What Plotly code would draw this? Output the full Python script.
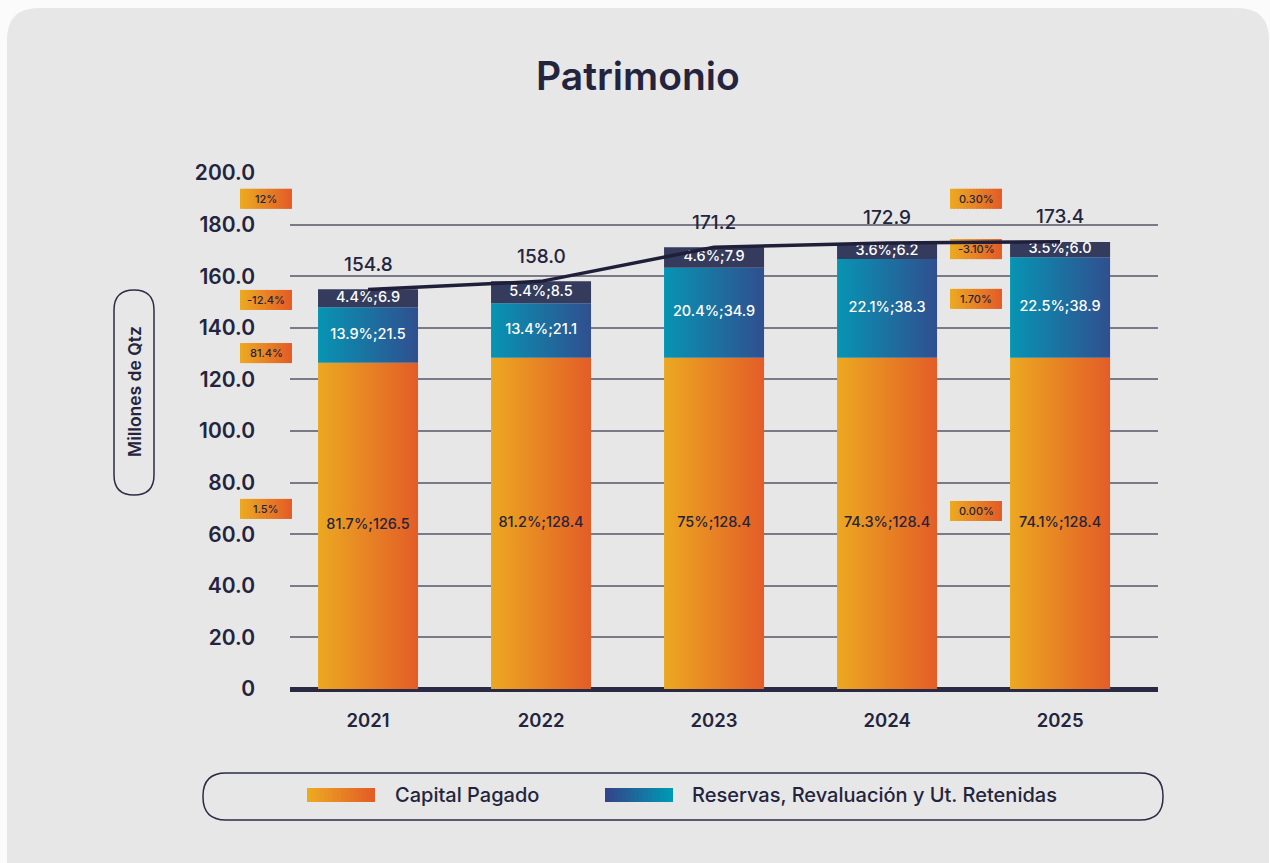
import plotly.graph_objects as go

# ---------------- data ----------------
years = ["2021", "2022", "2023", "2024", "2025"]
capital = [126.5, 128.4, 128.4, 128.4, 128.4]
reservas = [21.5, 21.1, 34.9, 38.3, 38.9]
utilidades = [6.9, 8.5, 7.9, 6.2, 6.0]
capital_pct = ["81.7%", "81.2%", "75%", "74.3%", "74.1%"]
reservas_pct = ["13.9%", "13.4%", "20.4%", "22.1%", "22.5%"]
utilidades_pct = ["4.4%", "5.4%", "4.6%", "3.6%", "3.5%"]
totals = [154.8, 158.0, 171.2, 172.9, 173.4]
total_labels = ["154.8", "158.0", "171.2", "172.9", "173.4"]
left_notes = ["12%", "-12.4%", "81.4%", "1.5%"]
left_notes_y = [190.0, 150.8, 130.2, 69.8]
right_notes = ["0.30%", "-3.10%", "1.70%", "0.00%"]
right_notes_y = [190.0, 170.5, 151.2, 69.0]
ytick_vals = [0, 20, 40, 60, 80, 100, 120, 140, 160, 180, 200]
ytick_text = ["0", "20.0", "40.0", "60.0", "80.0", "100.0", "120.0",
              "140.0", "160.0", "180.0", "200.0"]

# ---------------- style ----------------
W, H = 1270, 863
ML, MR, MT, MB = 290, 112, 173, 174
PW, PH = W - ML - MR, H - MT - MB
DARK = "#24243e"
FONT = "Inter"
ORANGE = ["#eca821", "#e35d27"]
TEAL = ["#0794b3", "#304f8f"]
NAVY = "#343b5d"
BW = 0.578


def p2x(px):
    return (px - ML) / PW


def p2y(py):
    return (H - MB - py) / PH


def rrect_path(x0, y0, x1, y1, r):
    pts = [
        ("M", [(x0 + r, y0)]), ("L", [(x1 - r, y0)]), ("Q", [(x1, y0), (x1, y0 + r)]),
        ("L", [(x1, y1 - r)]), ("Q", [(x1, y1), (x1 - r, y1)]), ("L", [(x0 + r, y1)]),
        ("Q", [(x0, y1), (x0, y1 - r)]), ("L", [(x0, y0 + r)]), ("Q", [(x0, y0), (x0 + r, y0)]),
    ]
    s = ""
    for cmd, ps in pts:
        s += cmd + " " + " ".join(f"{p2x(a):.5f},{p2y(b):.5f}" for a, b in ps) + " "
    return s + "Z"


def lerp_color(c0, c1, t):
    a = [int(c0[i:i + 2], 16) for i in (1, 3, 5)]
    b = [int(c1[i:i + 2], 16) for i in (1, 3, 5)]
    return "#" + "".join(f"{round(a[k] + (b[k] - a[k]) * t):02x}" for k in range(3))


def gradient_strips(x0, x1, y0, y1, c0, c1, xref, yref, n=16, layer="between"):
    out = []
    step = (x1 - x0) / n
    for k in range(n):
        xa = x0 + step * k
        xb = x1 if k == n - 1 else xa + step * 1.6
        out.append(dict(type="rect", xref=xref, yref=yref, x0=xa, x1=xb,
                        y0=y0, y1=y1, fillcolor=lerp_color(c0, c1, k / (n - 1)),
                        line=dict(width=0), layer=layer))
    return out


fig = go.Figure()

# ---------------- stacked bars (gradient polygons) ----------------
segments = [
    (capital, ORANGE, None),
    (reservas, TEAL, None),
    (utilidades, None, NAVY),
]
bases = [0.0] * len(years)
for vals, grad, solid in segments:
    for i, v in enumerate(vals):
        x0, x1 = i - BW / 2, i + BW / 2
        b = bases[i]
        tr = dict(x=[x0, x1, x1, x0, x0], y=[b, b, b + v, b + v, b],
                  mode="lines", line=dict(width=0), fill="toself",
                  hoverinfo="skip", showlegend=False)
        if grad:
            tr["fillgradient"] = dict(type="horizontal", start=x0, stop=x1,
                                      colorscale=[[0, grad[0]], [1, grad[1]]])
        else:
            tr["fillcolor"] = solid
        fig.add_trace(go.Scatter(**tr))
    bases = [bases[i] + vals[i] for i in range(len(years))]

# segment labels
xs = list(range(len(years)))
fig.add_trace(go.Scatter(
    x=xs, y=[c / 2 for c in capital], mode="text",
    text=[f"{p};{v:.1f}" for p, v in zip(capital_pct, capital)],
    textfont=dict(family=FONT, size=14.5, color=DARK, weight=500),
    hoverinfo="skip", showlegend=False))
fig.add_trace(go.Scatter(
    x=xs, y=[c + r / 2 for c, r in zip(capital, reservas)], mode="text",
    text=[f"{p};{v:.1f}" for p, v in zip(reservas_pct, reservas)],
    textfont=dict(family=FONT, size=14.5, color="white", weight=500),
    hoverinfo="skip", showlegend=False))
fig.add_trace(go.Scatter(
    x=xs, y=[c + r + u / 2 for c, r, u in zip(capital, reservas, utilidades)], mode="text",
    text=[f"{p};{v:.1f}" for p, v in zip(utilidades_pct, utilidades)],
    textfont=dict(family=FONT, size=14.5, color="white", weight=500),
    hoverinfo="skip", showlegend=False))

# total line
fig.add_trace(go.Scatter(x=xs, y=totals, mode="lines",
                         line=dict(color="#1f1f3a", width=3.5),
                         hoverinfo="skip", showlegend=False))

shapes = []
annotations = []


def txt(x, y, text, size, weight=500, color=DARK, xref="paper", yref="paper",
        xanchor="center", yshift=0, angle=0):
    return dict(x=x, y=y, xref=xref, yref=yref, text=text, showarrow=False,
                xanchor=xanchor, yanchor="middle", yshift=yshift, textangle=angle,
                font=dict(family=FONT, size=size, color=color, weight=weight))


# card background
shapes.append(dict(type="path", xref="paper", yref="paper",
                   path=rrect_path(7, 8, 1269, 895, 32),
                   fillcolor="#e7e7e7", line=dict(width=0), layer="below"))

# total labels
for i, (t, lab) in enumerate(zip(totals, total_labels)):
    annotations.append(txt(i, t, lab, 19, 500, xref="x", yref="y", yshift=25))

# small note boxes
NOTE_W, NOTE_H = 52, 20
for cx_px, notes, ny in [(266, left_notes, left_notes_y), (976, right_notes, right_notes_y)]:
    for t, yv in zip(notes, ny):
        hy = NOTE_H / 2 / (PH / 200)
        shapes += gradient_strips(p2x(cx_px - NOTE_W / 2), p2x(cx_px + NOTE_W / 2),
                                  yv - hy, yv + hy, ORANGE[0], ORANGE[1], "paper", "y")
        annotations.append(txt(p2x(cx_px), yv, t, 11, 500, yref="y"))

# y-axis title pill
shapes.append(dict(type="path", xref="paper", yref="paper",
                   path=rrect_path(114, 290, 154, 495, 20),
                   fillcolor="rgba(0,0,0,0)", line=dict(color="#2c2c46", width=1.5)))
annotations.append(txt(p2x(134), p2y(392), "Millones de Qtz", 17.5, 600, angle=-90))

# title
annotations.append(txt(p2x(638), p2y(75), "Patrimonio", 39, 600))

# legend box
shapes.append(dict(type="path", xref="paper", yref="paper",
                   path=rrect_path(203, 773, 1163, 820, 23),
                   fillcolor="rgba(0,0,0,0)", line=dict(color="#2c2c46", width=1.5)))
shapes += gradient_strips(p2x(307), p2x(375), p2y(802), p2y(788),
                          ORANGE[0], ORANGE[1], "paper", "paper", layer="above")
shapes += gradient_strips(p2x(605), p2x(673), p2y(802), p2y(788),
                          "#33458a", "#0099b5", "paper", "paper", layer="above")
annotations.append(txt(p2x(393), p2y(795), "Capital Pagado", 20, 500, xanchor="left"))
annotations.append(txt(p2x(690), p2y(795), "Reservas, Revaluación y Ut. Retenidas",
                       20, 500, xanchor="left"))

fig.update_layout(
    width=W, height=H,
    margin=dict(l=ML, r=MR, t=MT, b=MB, pad=0),
    paper_bgcolor="#fbfbfb", plot_bgcolor="rgba(0,0,0,0)",
    showlegend=False,
    shapes=shapes, annotations=annotations,
    xaxis=dict(range=[-0.451, 4.566], tickvals=xs, ticktext=years,
               showgrid=False, zeroline=False, showline=False,
               ticks="", ticklabelstandoff=18,
               tickfont=dict(family=FONT, size=18.5, color=DARK, weight=600),
               fixedrange=True),
    yaxis=dict(range=[0, 200], tickvals=ytick_vals, ticktext=ytick_text,
               showgrid=True, gridcolor="#7a7a88", gridwidth=1.5,
               zeroline=True, zerolinecolor="#2a2a44", zerolinewidth=5,
               showline=False, ticks="", ticklabelstandoff=34,
               tickfont=dict(family=FONT, size=21, color=DARK, weight=600),
               fixedrange=True),
)

fig.write_html("out.html",
               config={"displayModeBar": False},
               post_script="document.body.style.margin='0';"
                           "document.body.style.overflow='hidden';")
